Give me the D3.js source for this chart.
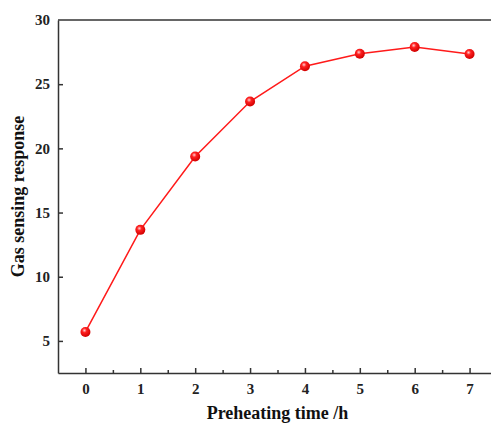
<!DOCTYPE html>
<html>
<head>
<meta charset="utf-8">
<script src="https://cdn.jsdelivr.net/npm/d3@7"></script>
<style>
  body { margin: 0; background: #fff; }
  text { font-family: "Liberation Serif", "Times New Roman", serif; font-weight: bold; }
</style>
</head>
<body>
<svg id="chart" width="491" height="423"></svg>
<script>
// preheating time (h) and gas sensing response
var hours = [0, 1, 2, 3, 4, 5, 6, 7];
var response = [5.7, 13.65, 19.37, 23.65, 26.4, 27.37, 27.9, 27.35];
var yTicks = [5, 10, 15, 20, 25, 30];
var xTicks = [0, 1, 2, 3, 4, 5, 6, 7];
var xMinor = [0.5, 1.5, 2.5, 3.5, 4.5, 5.5, 6.5];

var svg = d3.select("#chart");
var plotLeft = 58, plotRight = 497, plotTop = 20, plotBottom = 373;

var x = d3.scaleLinear().domain([-0.5, 7.5]).range([plotLeft, plotRight]);
var y = d3.scaleLinear().domain([2.5, 30]).range([plotBottom, plotTop]);

var defs = svg.append("defs");
var grad = defs.append("radialGradient").attr("id", "ball")
    .attr("cx", "40%").attr("cy", "35%").attr("r", "65%");
grad.append("stop").attr("offset", "0%").attr("stop-color", "#ffd0d0");
grad.append("stop").attr("offset", "35%").attr("stop-color", "#ff2020");
grad.append("stop").attr("offset", "100%").attr("stop-color", "#d00000");

// frame
var axisColor = "#333";
svg.append("line").attr("x1", plotLeft).attr("x2", plotRight).attr("y1", plotTop).attr("y2", plotTop)
    .attr("stroke", axisColor).attr("stroke-width", 1.5);
svg.append("line").attr("x1", plotRight).attr("x2", plotRight).attr("y1", plotTop).attr("y2", plotBottom)
    .attr("stroke", axisColor).attr("stroke-width", 1.5);

// axes with inward ticks
var yAxis = d3.axisLeft(y).tickValues(yTicks).tickSize(-5).tickPadding(8).tickSizeOuter(0);
var gy = svg.append("g").attr("transform", "translate(" + plotLeft + ",0)").call(yAxis);

var xAxis = d3.axisBottom(x).tickValues(xTicks).tickSize(-5).tickPadding(10).tickSizeOuter(0);
var gx = svg.append("g").attr("transform", "translate(0," + plotBottom + ")").call(xAxis);

var xAxisMinor = d3.axisBottom(x).tickValues(xMinor).tickSize(-3).tickFormat("");
var gxm = svg.append("g").attr("transform", "translate(0," + plotBottom + ")").call(xAxisMinor);
gxm.select(".domain").remove();

[gx, gy, gxm].forEach(function(g) {
  g.selectAll(".domain").attr("stroke", axisColor).attr("stroke-width", 1.5);
  g.selectAll(".tick line").attr("stroke", axisColor).attr("stroke-width", 1.5);
  g.selectAll(".tick text").attr("fill", "#222").style("font-size", "15px")
    .style("font-family", "Liberation Serif, serif").style("font-weight", "bold");
});
gy.select(".tick:last-of-type line").remove();

// line
var pts = hours.map(function(h, i) { return [h, response[i]]; });
svg.append("path").datum(pts)
    .attr("fill", "none").attr("stroke", "#ff1a1a").attr("stroke-width", 1.5)
    .attr("d", d3.line().x(function(d) { return x(d[0]); }).y(function(d) { return y(d[1]); }));

svg.selectAll("circle.pt").data(pts).enter().append("circle")
    .attr("class", "pt")
    .attr("cx", function(d) { return x(d[0]); })
    .attr("cy", function(d) { return y(d[1]); })
    .attr("r", 5)
    .attr("fill", "url(#ball)");

// titles
svg.append("text").attr("x", (plotLeft + plotRight) / 2).attr("y", 419)
    .attr("text-anchor", "middle").style("font-size", "18px").attr("fill", "#111")
    .text("Preheating time /h");

svg.append("text")
    .attr("transform", "translate(24," + ((plotTop + plotBottom) / 2) + ") rotate(-90)")
    .attr("text-anchor", "middle").style("font-size", "18px").attr("fill", "#111")
    .text("Gas sensing response");
</script>
</body>
</html>
